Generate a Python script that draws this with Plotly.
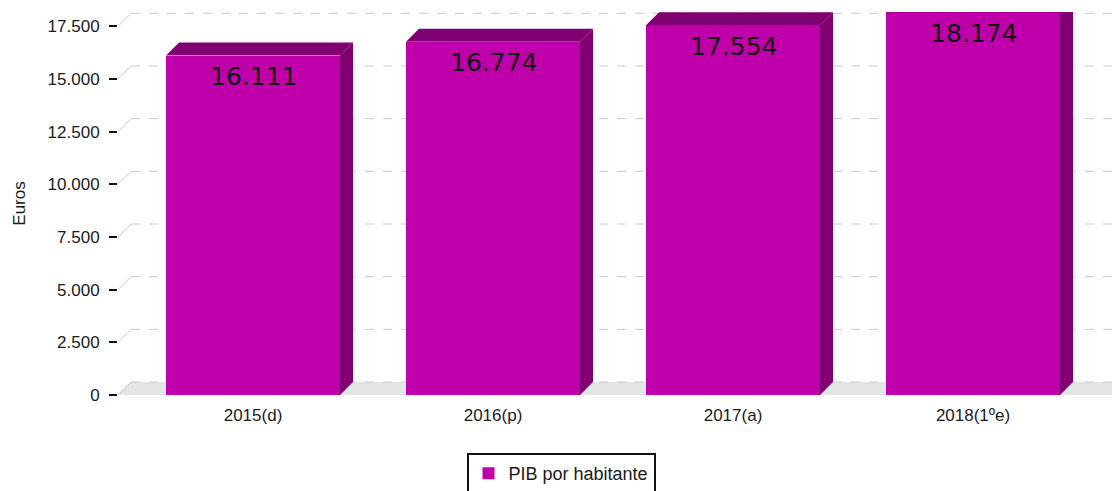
import plotly.graph_objects as go

# ---- data ----
categories = ["2015(d)", "2016(p)", "2017(a)", "2018(1ºe)"]
values = [16111, 16774, 17554, 18174]
value_labels = ["16.111", "16.774", "17.554", "18.174"]
y_ticks = [0, 2500, 5000, 7500, 10000, 12500, 15000, 17500]
series_name = "PIB por habitante"

# ---- style / geometry ----
FRONT = "#BF00AA"
DARK = "#800072"
FLOOR = "#E4E4E4"
GRID = "#C8C8C8"

W, H = 1112, 491
ML, MR, MT, MB = 118, 0, 12, 96
plot_w = W - ML - MR
plot_h = H - MT - MB

cat_px = 240.0                     # pixels per category
x0 = -135.0 / cat_px               # left edge of x range
x_range = [x0, x0 + plot_w / cat_px]
px_per_y = 316.0 / 15000.0
y_range = [0, plot_h / px_per_y]

depth_px = 13
dx = depth_px / cat_px
dy = depth_px / px_per_y
bar_w = 174 / cat_px

xs = list(range(len(categories)))

fig = go.Figure()
fig.add_trace(go.Bar(
    x=xs, y=values, width=bar_w, name=series_name,
    marker=dict(color=FRONT, line=dict(width=0)),
    hoverinfo="x+y",
))

shapes = []
# floor
shapes.append(dict(
    type="path", xref="x", yref="y", layer="below",
    path=f"M{x_range[0]},0 L{x_range[0]+dx},{dy} L{x_range[1]},{dy} L{x_range[1]},0 Z",
    fillcolor=FLOOR, line=dict(width=0),
))
# back-wall grid lines and their diagonal links
for v in y_ticks:
    shapes.append(dict(type="line", xref="x", yref="y", layer="below",
                       x0=x_range[0] + dx, x1=x_range[1], y0=v + dy, y1=v + dy,
                       line=dict(color=GRID, width=1, dash="dash")))
    shapes.append(dict(type="line", xref="x", yref="y", layer="below",
                       x0=x_range[0], x1=x_range[0] + dx, y0=v, y1=v + dy,
                       line=dict(color=GRID, width=1)))
# 3D faces for each bar
for x, v in zip(xs, values):
    l, r = x - bar_w / 2, x + bar_w / 2
    shapes.append(dict(type="path", xref="x", yref="y", layer="above",
                       path=f"M{r},0 L{r+dx},{dy} L{r+dx},{v+dy} L{r},{v} Z",
                       fillcolor=DARK, line=dict(width=0)))
    shapes.append(dict(type="path", xref="x", yref="y", layer="above",
                       path=f"M{l},{v} L{l+dx},{v+dy} L{r+dx},{v+dy} L{r},{v} Z",
                       fillcolor=DARK, line=dict(width=0)))

annotations = []
for x, v, t in zip(xs, values, value_labels):
    annotations.append(dict(x=x, y=v, xref="x", yref="y", text=t, showarrow=False,
                            yanchor="middle", yshift=-21,
                            font=dict(family="DejaVu Sans", size=25, color="#111111")))

fig.update_layout(
    width=W, height=H,
    margin=dict(l=ML, r=MR, t=MT, b=MB, autoexpand=False),
    paper_bgcolor="white", plot_bgcolor="white",
    separators=",.",
    font=dict(family="Liberation Sans, Arial, sans-serif", size=17, color="#1a1a1a"),
    shapes=shapes, annotations=annotations,
    showlegend=True,
    legend=dict(orientation="h", x=(561 - ML) / plot_w, xanchor="center",
                y=-(453 - (H - MB)) / plot_h, yanchor="top",
                bordercolor="#111111", borderwidth=2, bgcolor="white",
                font=dict(size=18)),
    xaxis=dict(range=x_range, tickvals=xs, ticktext=categories, showgrid=False,
               zeroline=False, showline=False, ticks="", fixedrange=True,
               ticklabelstandoff=8, automargin=False),
    yaxis=dict(range=y_range, tickvals=y_ticks, tickformat=",d", showgrid=False,
               zeroline=False, showline=False, ticks="outside", ticklen=8,
               tickwidth=2, tickcolor="#111111", ticklabelstandoff=6,
               title=dict(text="Euros", standoff=17, font=dict(size=17)),
               fixedrange=True, automargin=False),
    bargap=0,
)

fig.write_html(
    "out.html",
    config={"displayModeBar": False},
    post_script="document.body.style.margin='0';document.body.style.overflow='hidden';",
)
